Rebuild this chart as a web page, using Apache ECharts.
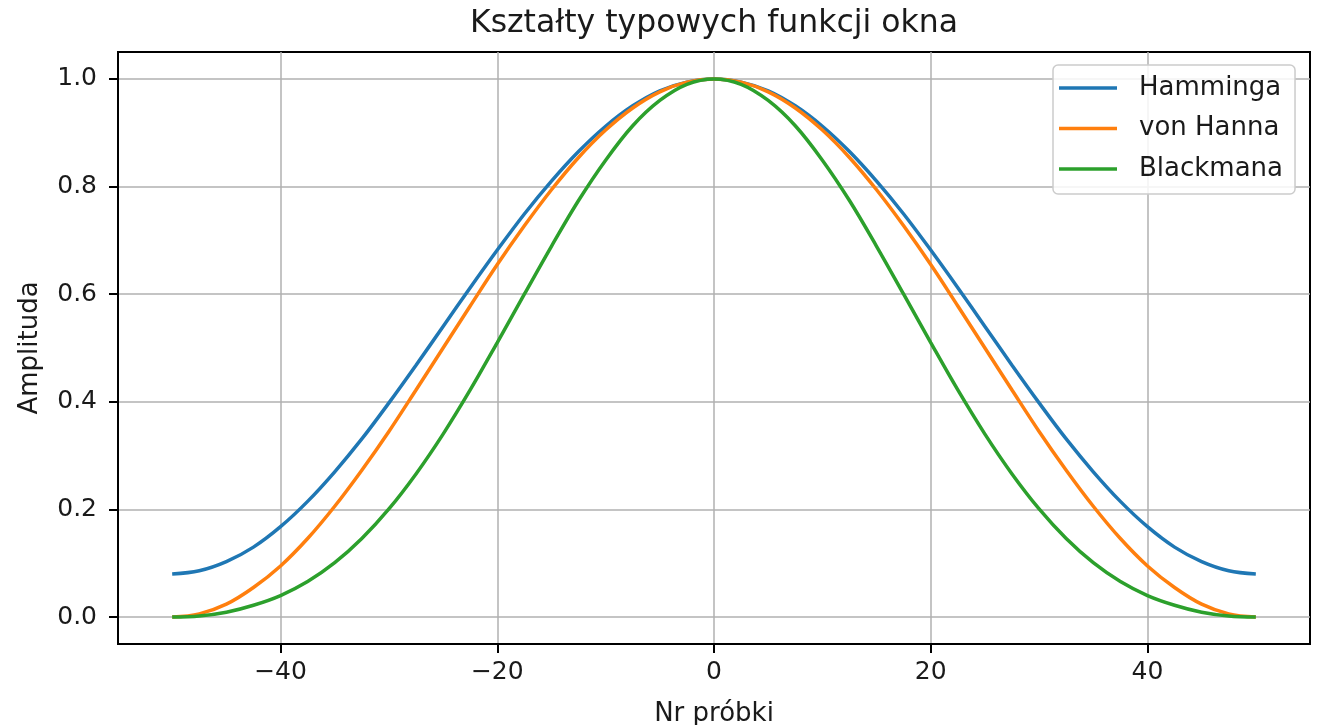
<!DOCTYPE html>
<html>
<head>
<meta charset="utf-8">
<script src="https://cdn.jsdelivr.net/npm/echarts@6/dist/echarts.min.js"></script>
<style>html,body{margin:0;padding:0;background:#fff;}#c{width:1322px;height:725px;}</style>
</head>
<body>
<div id="c"></div>
<script>
var xs = [-50, -47.5, -45, -42.5, -40, -37.5, -35, -32.5, -30, -27.5, -25, -22.5, -20, -17.5, -15, -12.5, -10, -7.5, -5, -2.5, 0, 2.5, 5, 7.5, 10, 12.5, 15, 17.5, 20, 22.5, 25, 27.5, 30, 32.5, 35, 37.5, 40, 42.5, 45, 47.5, 50];
var hamming = [0.080, 0.086, 0.103, 0.130, 0.168, 0.215, 0.270, 0.331, 0.398, 0.468, 0.540, 0.612, 0.682, 0.749, 0.810, 0.865, 0.912, 0.950, 0.978, 0.994, 1.000, 0.994, 0.978, 0.950, 0.912, 0.865, 0.810, 0.749, 0.682, 0.612, 0.540, 0.468, 0.398, 0.331, 0.270, 0.215, 0.168, 0.130, 0.103, 0.086, 0.080];
var hann = [0.000, 0.006, 0.024, 0.055, 0.095, 0.146, 0.206, 0.273, 0.345, 0.422, 0.500, 0.578, 0.655, 0.727, 0.794, 0.854, 0.905, 0.946, 0.976, 0.994, 1.000, 0.994, 0.976, 0.946, 0.905, 0.854, 0.794, 0.727, 0.655, 0.578, 0.500, 0.422, 0.345, 0.273, 0.206, 0.146, 0.095, 0.055, 0.024, 0.006, 0.000];
var blackman = [0.000, 0.002, 0.009, 0.022, 0.040, 0.066, 0.101, 0.146, 0.201, 0.266, 0.340, 0.422, 0.510, 0.600, 0.689, 0.774, 0.849, 0.913, 0.960, 0.990, 1.000, 0.990, 0.960, 0.913, 0.849, 0.774, 0.689, 0.600, 0.510, 0.422, 0.340, 0.266, 0.201, 0.146, 0.101, 0.066, 0.040, 0.022, 0.009, 0.002, 0.000];
var seriesNames = ['Hamminga', 'von Hanna', 'Blackmana'];
var xTicks = [-40, -20, 0, 20, 40];
var yTicks = [0, 0.2, 0.4, 0.6, 0.8, 1.0];

var colors = ['#1f77b4', '#ff7f0e', '#2ca02c'];
var font = 'DejaVu Sans';
var txt = '#1a1a1a';
function pairs(ys) { return xs.map(function (x, i) { return [x, ys[i]]; }); }
var allY = [hamming, hann, blackman];

var chart = echarts.init(document.getElementById('c'), null, {renderer: 'canvas'});
chart.setOption({
  animation: false,
  backgroundColor: '#fff',
  title: {
    text: 'Kształty typowych funkcji okna',
    left: 714, textAlign: 'center', top: 8, padding: 0,
    textStyle: {fontFamily: font, fontSize: 31.5, fontWeight: 'normal', color: txt}
  },
  grid: {left: 118, right: 12, top: 52, bottom: 81, containLabel: false, outerBoundsMode: 'none',
    show: true, borderColor: '#000', borderWidth: 2, backgroundColor: 'transparent'},
  legend: {
    orient: 'vertical', left: 1053, top: 65,
    padding: [10, 12, 12, 6],
    itemGap: 14.5, itemWidth: 58, itemHeight: 3.5, icon: 'rect',
    backgroundColor: 'rgba(255,255,255,0.85)', borderColor: '#cccccc', borderWidth: 1.5, borderRadius: 5,
    textStyle: {fontFamily: font, fontSize: 26, color: txt, lineHeight: 26, padding: [0, 0, 0, 17]},
    data: seriesNames
  },
  xAxis: {
    type: 'value', min: -55, max: 55,
    name: 'Nr próbki', nameLocation: 'middle', nameGap: 57,
    nameTextStyle: {fontFamily: font, fontSize: 26, color: txt},
    axisLine: {show: true, onZero: false, lineStyle: {color: '#000', width: 2}},
    axisTick: {show: true, inside: false, length: 9, lineStyle: {color: '#000', width: 2}, customValues: xTicks},
    axisLabel: {fontFamily: font, fontSize: 25, color: txt, margin: 16, customValues: xTicks,
      formatter: function (v) { return v < 0 ? '\u2212' + Math.abs(v) : String(v); }},
    splitLine: {show: true, lineStyle: {color: '#b0b0b0', width: 1.5}}
  },
  yAxis: {
    type: 'value', min: -0.05, max: 1.05,
    name: 'Amplituda', nameLocation: 'middle', nameGap: 75, nameRotate: 90,
    nameTextStyle: {fontFamily: font, fontSize: 26, color: txt},
    axisLine: {show: true, onZero: false, lineStyle: {color: '#000', width: 2}},
    axisTick: {show: true, inside: false, length: 9, lineStyle: {color: '#000', width: 2}, customValues: yTicks},
    axisLabel: {fontFamily: font, fontSize: 25, color: txt, margin: 21, customValues: yTicks,
      formatter: function (v) { return v.toFixed(1); }},
    splitLine: {show: true, lineStyle: {color: '#b0b0b0', width: 1.5}}
  },
  series: seriesNames.map(function (n, i) {
    return {
      name: n, type: 'line', data: pairs(allY[i]), showSymbol: false, symbol: 'none',
      smooth: 0.35, color: colors[i],
      lineStyle: {color: colors[i], width: 3.5}, z: 3 + i
    };
  })
});
</script>
</body>
</html>
